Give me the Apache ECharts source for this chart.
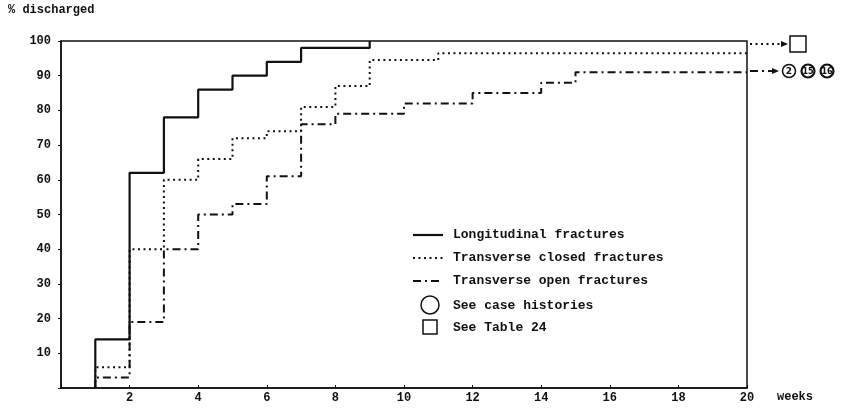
<!DOCTYPE html>
<html><head><meta charset="utf-8">
<script src="https://cdn.jsdelivr.net/npm/echarts@6/dist/echarts.min.js"></script>
<style>html,body{margin:0;padding:0;background:#fff}#c{width:857px;height:414px}</style>
</head><body><div id="c"></div>
<script>
// Data (weeks vs % discharged), step curves
const longWeeks = [1, 1, 2, 3, 4, 5, 6, 7, 9];
const longPct   = [0, 14, 62, 78, 86, 90, 94, 98, 100];
const closedWeeks = [1, 1, 2, 3, 4, 5, 6, 7, 8, 9, 11, 20];
const closedPct   = [0, 6, 40, 60, 66, 72, 74, 81, 87, 94.5, 96.5, 96.5];
const openWeeks = [1, 1, 2, 3, 4, 5, 6, 7, 8, 10, 12, 14, 15, 20];
const openPct   = [0, 3, 19, 40, 50, 53, 61, 76, 79, 82, 85, 88, 91, 91];
const xTicks = [2, 4, 6, 8, 10, 12, 14, 16, 18, 20];
const yTicks = [10, 20, 30, 40, 50, 60, 70, 80, 90, 100];
const seriesNames = ['Longitudinal fractures', 'Transverse closed fractures', 'Transverse open fractures'];
const noteLabels = ['See case histories', 'See Table 24'];
const caseNumbers = ['2', '15', '16'];

const FONT = '"Liberation Mono", "DejaVu Sans Mono", monospace';
const INK = '#111';
const styles = [
  { type: 'solid', width: 2.2 },
  { type: [2, 3.5], width: 2 },
  { type: [8, 4, 2, 4], width: 2 }
];
const zip = (a, b) => a.map((v, i) => [v, b[i]]);
const datasets = [zip(longWeeks, longPct), zip(closedWeeks, closedPct), zip(openWeeks, openPct)];

const chart = echarts.init(document.getElementById('c'), null, { renderer: 'canvas' });

const txt = (x, y, s, size, extra) => Object.assign({
  type: 'text', left: x, top: y,
  style: { text: s, fill: INK, font: 'bold ' + (size || 13) + 'px ' + FONT }
}, extra || {});

const graphics = [
  txt(8, 4, '% discharged', 12),
  txt(777, 391, 'weeks', 12)
];
// legend lines
const legY = [235, 258, 281];
for (let i = 0; i < 3; i++) {
  graphics.push({ type: 'line', shape: { x1: 413, y1: legY[i], x2: 443, y2: legY[i] },
    style: { stroke: INK, lineWidth: styles[i].width, lineDash: styles[i].type === 'solid' ? null : styles[i].type } });
  graphics.push({ type: 'text', x: 453, y: legY[i], style: { text: seriesNames[i], fill: INK, font: 'bold 13px ' + FONT, textVerticalAlign: 'middle' } });
}
graphics.push({ type: 'circle', shape: { cx: 430, cy: 305, r: 9 }, style: { fill: 'none', stroke: INK, lineWidth: 1.5 } });
graphics.push({ type: 'text', x: 453, y: 306, style: { text: noteLabels[0], fill: INK, font: 'bold 13px ' + FONT, textVerticalAlign: 'middle' } });
graphics.push({ type: 'rect', shape: { x: 423, y: 320, width: 14, height: 14 }, style: { fill: 'none', stroke: INK, lineWidth: 1.5 } });
graphics.push({ type: 'text', x: 453, y: 328, style: { text: noteLabels[1], fill: INK, font: 'bold 13px ' + FONT, textVerticalAlign: 'middle' } });

// right-side annotations
graphics.push({ type: 'line', shape: { x1: 750, y1: 44, x2: 782, y2: 44 }, style: { stroke: INK, lineWidth: 2, lineDash: [2, 3.5] } });
graphics.push({ type: 'polygon', shape: { points: [[781, 41], [788, 44], [781, 47]] }, style: { fill: INK } });
graphics.push({ type: 'rect', shape: { x: 790, y: 36, width: 16, height: 16 }, style: { fill: 'none', stroke: INK, lineWidth: 1.5 } });
graphics.push({ type: 'line', shape: { x1: 750, y1: 71, x2: 773, y2: 71 }, style: { stroke: INK, lineWidth: 2, lineDash: [8, 4, 2, 4] } });
graphics.push({ type: 'polygon', shape: { points: [[772, 68], [779, 71], [772, 74]] }, style: { fill: INK } });
const cx = [789, 808, 827];
for (let i = 0; i < 3; i++) {
  graphics.push({ type: 'circle', shape: { cx: cx[i], cy: 71, r: 6.5 }, style: { fill: '#fff', stroke: INK, lineWidth: i === 0 ? 1.5 : 2.2 } });
  graphics.push({ type: 'text', x: cx[i], y: 71.5, style: { text: caseNumbers[i], fill: INK, font: 'bold ' + (i === 0 ? 9 : 8) + 'px "DejaVu Sans", sans-serif', textAlign: 'center', textVerticalAlign: 'middle' } });
}

chart.setOption({
  animation: false,
  backgroundColor: '#fff',
  grid: { left: 61, right: 110, top: 41, bottom: 26, show: true, borderColor: INK, borderWidth: 1.5, backgroundColor: 'transparent' },
  xAxis: {
    type: 'value', min: 0, max: 20, interval: 2,
    axisLine: { show: true, onZero: false, lineStyle: { color: INK, width: 1.5 } },
    axisTick: { show: true, inside: true, length: 3, lineStyle: { color: INK } },
    splitLine: { show: false },
    axisLabel: { color: INK, fontWeight: 'bold', fontFamily: FONT, fontSize: 12, margin: 4,
      formatter: v => xTicks.includes(v) ? String(v) : '' }
  },
  yAxis: {
    type: 'value', min: 0, max: 100, interval: 10,
    axisLine: { show: true, lineStyle: { color: INK, width: 1.5 } },
    axisTick: { show: true, inside: false, length: 3, lineStyle: { color: INK } },
    splitLine: { show: false },
    axisLabel: { color: INK, fontWeight: 'bold', fontFamily: FONT, fontSize: 12, margin: 10,
      formatter: v => yTicks.includes(v) ? String(v) : '' }
  },
  series: datasets.map((d, i) => ({
    name: seriesNames[i], type: 'line', step: 'end', data: d,
    showSymbol: false, symbol: 'none',
    lineStyle: { color: INK, width: styles[i].width, type: styles[i].type }
  })),
  graphic: graphics
});
</script></body></html>
